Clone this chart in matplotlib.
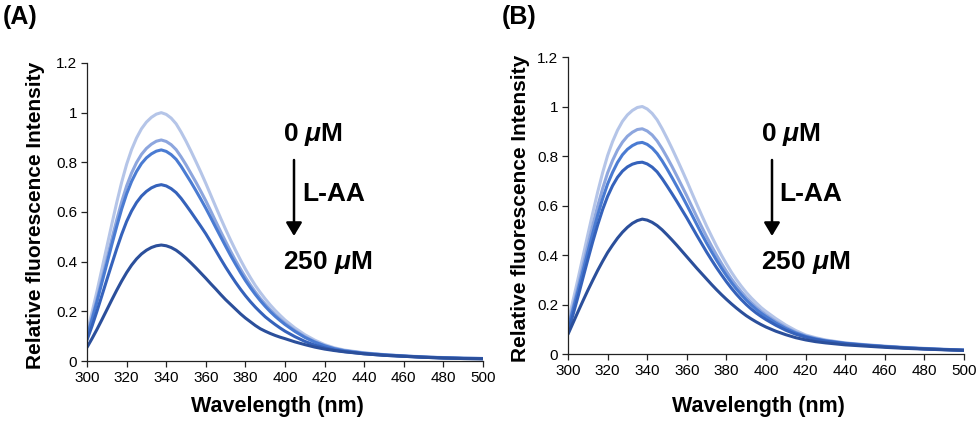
import matplotlib
matplotlib.use("Agg")
import matplotlib.pyplot as plt
import matplotlib.patches as mpatches
from matplotlib.ticker import FuncFormatter

plt.rcParams['font.family'] = ['Liberation Sans', 'DejaVu Sans']
plt.rcParams['mathtext.fontset'] = 'custom'
plt.rcParams['mathtext.it'] = 'Liberation Sans:italic:bold'
plt.rcParams['mathtext.rm'] = 'Liberation Sans:bold'

wavelength = [300, 302.5, 305, 307.5, 310, 312.5, 315, 317.5, 320, 322.5, 325, 327.5, 330, 332.5,
              335, 337.5, 340, 342.5, 345, 347.5, 350, 352.5, 355, 357.5, 360, 362.5, 365, 367.5,
              370, 372.5, 375, 377.5, 380, 382.5, 385, 387.5, 390, 392.5, 395, 397.5, 400,
              405, 410, 415, 420, 425, 430, 440, 450, 460, 470, 480, 490, 500]

# Panel A: L-AA 0 uM (lightest) ... 250 uM (darkest)
a_s1 = [0.115, 0.195, 0.28, 0.37, 0.46, 0.55, 0.638, 0.72, 0.792, 0.851, 0.898, 0.935, 0.962, 0.981,
        0.994, 1.0, 0.993, 0.978, 0.955, 0.922, 0.885, 0.845, 0.803, 0.76, 0.715, 0.668, 0.621, 0.575,
        0.53, 0.487, 0.446, 0.407, 0.37, 0.336, 0.304, 0.276, 0.25, 0.226, 0.204, 0.184, 0.165,
        0.133, 0.106, 0.084, 0.066, 0.053, 0.044, 0.033, 0.026, 0.021, 0.017, 0.014, 0.012, 0.01]
a_s2 = [0.102, 0.174, 0.249, 0.329, 0.409, 0.49, 0.568, 0.641, 0.705, 0.757, 0.799, 0.832, 0.856, 0.873,
        0.885, 0.89, 0.884, 0.871, 0.851, 0.822, 0.79, 0.755, 0.72, 0.683, 0.645, 0.604, 0.562, 0.521,
        0.481, 0.442, 0.405, 0.37, 0.337, 0.306, 0.278, 0.252, 0.229, 0.207, 0.187, 0.169, 0.152,
        0.123, 0.098, 0.078, 0.062, 0.05, 0.042, 0.032, 0.025, 0.02, 0.016, 0.013, 0.011, 0.01]
a_s3 = [0.098, 0.166, 0.238, 0.315, 0.391, 0.468, 0.542, 0.612, 0.673, 0.723, 0.763, 0.795, 0.818, 0.834,
        0.845, 0.85, 0.844, 0.831, 0.812, 0.784, 0.752, 0.72, 0.686, 0.651, 0.615, 0.577, 0.538, 0.5,
        0.462, 0.425, 0.39, 0.356, 0.324, 0.295, 0.268, 0.243, 0.22, 0.199, 0.18, 0.163, 0.147,
        0.119, 0.095, 0.076, 0.061, 0.049, 0.041, 0.031, 0.025, 0.02, 0.016, 0.013, 0.011, 0.01]
a_s4 = [0.085, 0.14, 0.2, 0.263, 0.327, 0.39, 0.452, 0.51, 0.562, 0.604, 0.638, 0.664, 0.683, 0.697,
        0.706, 0.71, 0.705, 0.694, 0.678, 0.655, 0.628, 0.6, 0.571, 0.542, 0.512, 0.479, 0.445, 0.411,
        0.378, 0.347, 0.317, 0.289, 0.263, 0.239, 0.217, 0.197, 0.178, 0.162, 0.147, 0.133, 0.12,
        0.098, 0.079, 0.064, 0.053, 0.044, 0.038, 0.029, 0.023, 0.019, 0.015, 0.012, 0.01, 0.009]
a_s5 = [0.055, 0.09, 0.127, 0.166, 0.206, 0.246, 0.285, 0.322, 0.356, 0.386, 0.411, 0.431, 0.446, 0.457,
        0.464, 0.467, 0.464, 0.457, 0.446, 0.431, 0.414, 0.395, 0.375, 0.354, 0.333, 0.311, 0.29, 0.268,
        0.247, 0.228, 0.209, 0.19, 0.173, 0.158, 0.143, 0.13, 0.12, 0.111, 0.103, 0.096, 0.09,
        0.077, 0.066, 0.056, 0.048, 0.042, 0.037, 0.029, 0.023, 0.019, 0.015, 0.012, 0.01, 0.009]

# Panel B
b_s1 = [0.13, 0.215, 0.302, 0.392, 0.482, 0.57, 0.655, 0.733, 0.802, 0.858, 0.904, 0.94, 0.966, 0.984,
        0.996, 1.0, 0.99, 0.972, 0.946, 0.911, 0.872, 0.831, 0.788, 0.744, 0.699, 0.652, 0.606, 0.561,
        0.517, 0.476, 0.436, 0.399, 0.364, 0.331, 0.301, 0.274, 0.249, 0.227, 0.207, 0.188, 0.172,
        0.143, 0.117, 0.095, 0.077, 0.066, 0.057, 0.045, 0.038, 0.032, 0.027, 0.023, 0.019, 0.016]
b_s2 = [0.112, 0.19, 0.27, 0.354, 0.438, 0.52, 0.598, 0.669, 0.732, 0.782, 0.824, 0.856, 0.88, 0.896,
        0.907, 0.91, 0.901, 0.885, 0.861, 0.83, 0.795, 0.758, 0.719, 0.679, 0.639, 0.597, 0.555, 0.514,
        0.474, 0.436, 0.4, 0.366, 0.334, 0.304, 0.277, 0.252, 0.229, 0.209, 0.19, 0.173, 0.158,
        0.131, 0.108, 0.088, 0.073, 0.063, 0.055, 0.044, 0.037, 0.031, 0.026, 0.022, 0.019, 0.016]
b_s3 = [0.104, 0.178, 0.254, 0.333, 0.412, 0.488, 0.561, 0.628, 0.687, 0.734, 0.774, 0.805, 0.827, 0.842,
        0.852, 0.855, 0.847, 0.832, 0.81, 0.781, 0.748, 0.713, 0.677, 0.64, 0.602, 0.563, 0.524, 0.485,
        0.448, 0.413, 0.379, 0.347, 0.317, 0.289, 0.263, 0.24, 0.218, 0.199, 0.181, 0.165, 0.151,
        0.125, 0.103, 0.085, 0.071, 0.061, 0.053, 0.043, 0.036, 0.03, 0.025, 0.021, 0.018, 0.015]
b_s4 = [0.09, 0.158, 0.23, 0.306, 0.381, 0.454, 0.522, 0.584, 0.637, 0.68, 0.714, 0.739, 0.756, 0.767,
        0.773, 0.775, 0.768, 0.755, 0.736, 0.709, 0.679, 0.648, 0.616, 0.583, 0.55, 0.515, 0.48, 0.446,
        0.412, 0.38, 0.349, 0.32, 0.292, 0.266, 0.242, 0.22, 0.2, 0.182, 0.166, 0.152, 0.139,
        0.116, 0.096, 0.08, 0.068, 0.059, 0.052, 0.042, 0.035, 0.03, 0.025, 0.021, 0.018, 0.015]
b_s5 = [0.08, 0.125, 0.17, 0.214, 0.257, 0.298, 0.338, 0.375, 0.41, 0.44, 0.468, 0.492, 0.512, 0.528,
        0.539, 0.545, 0.541, 0.532, 0.519, 0.502, 0.482, 0.461, 0.439, 0.416, 0.393, 0.37, 0.347, 0.325,
        0.303, 0.281, 0.26, 0.24, 0.221, 0.203, 0.186, 0.17, 0.155, 0.142, 0.13, 0.119, 0.109,
        0.092, 0.078, 0.066, 0.057, 0.05, 0.045, 0.037, 0.032, 0.027, 0.023, 0.02, 0.017, 0.015]

colors = ['#b5c5e8', '#8da6de', '#4a7bd2', '#3562bb', '#2b4f9b']
x_ticks = [300, 320, 340, 360, 380, 400, 420, 440, 460, 480, 500]
y_ticks = [0, 0.2, 0.4, 0.6, 0.8, 1.0, 1.2]

fig = plt.figure(figsize=(9.8, 4.21), dpi=100)
axA = fig.add_axes([0.0888, 0.1425, 0.4041, 0.7079])
axB = fig.add_axes([0.5796, 0.1591, 0.4041, 0.7055])


def style(ax, series, ylab_x, xlab_y):
    for s, c in zip(series, colors):
        ax.plot(wavelength, s, color=c, lw=2.2, solid_capstyle='round', solid_joinstyle='round')
    ax.set_xlim(300, 500)
    ax.set_ylim(0, 1.2)
    ax.set_xticks(x_ticks)
    ax.set_yticks(y_ticks)
    ax.yaxis.set_major_formatter(FuncFormatter(lambda v, p: '%g' % round(v, 2)))
    for sp in ['top', 'right']:
        ax.spines[sp].set_visible(False)
    for sp in ['left', 'bottom']:
        ax.spines[sp].set_color('#222222')
        ax.spines[sp].set_linewidth(0.9)
    ax.tick_params(direction='out', length=4, width=0.9, color='#222222',
                   labelsize=11, pad=3)
    ax.set_xlabel('Wavelength (nm)', fontsize=15.5, fontweight='bold')
    ax.set_ylabel('Relative fluorescence Intensity', fontsize=15, fontweight='bold')
    ax.xaxis.set_label_coords(0.48, xlab_y)
    ax.xaxis.label.set_va('center')
    ax.yaxis.set_label_coords(ylab_x, 0.49)
    ax.yaxis.label.set_va('center')


style(axA, [a_s1, a_s2, a_s3, a_s4, a_s5], -0.131, -0.154)
style(axB, [b_s1, b_s2, b_s3, b_s4, b_s5], -0.121, -0.178)


def px(x, y):
    return (x / 980.0, 1 - y / 421.0)


# panel labels
fig.text(*px(3, 17), '(A)', fontsize=18, fontweight='bold', va='center', ha='left')
fig.text(*px(502, 17), '(B)', fontsize=18, fontweight='bold', va='center', ha='left')


def annot(x0, xlab, xarrow):
    fig.text(*px(x0, 134), r'0 $\mu$M', fontsize=19, fontweight='bold', va='center', ha='left')
    fig.text(*px(xlab, 194), 'L-AA', fontsize=19, fontweight='bold', va='center', ha='left')
    fig.text(*px(x0, 262), r'250 $\mu$M', fontsize=19, fontweight='bold', va='center', ha='left')
    fig.patches.append(mpatches.FancyArrowPatch(
        px(xarrow, 160), px(xarrow, 236), transform=fig.transFigure,
        arrowstyle='-|>,head_length=5,head_width=3', lw=1.8, color='black',
        mutation_scale=1.6, shrinkA=0, shrinkB=0))


annot(283, 302, 294)
annot(761, 779, 772)

fig.savefig('out.png', dpi=100)
